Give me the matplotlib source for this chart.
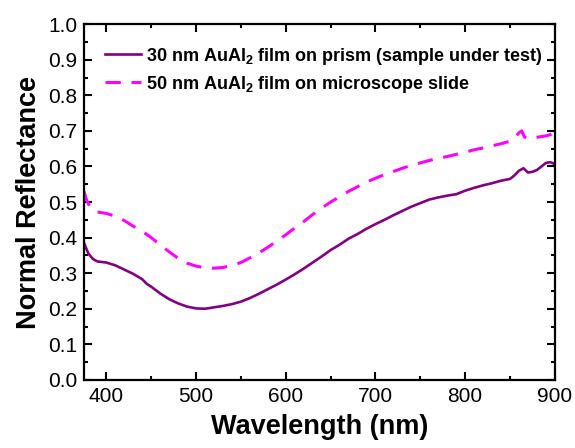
import matplotlib
matplotlib.use('Agg')
import matplotlib.pyplot as plt
from matplotlib.ticker import MultipleLocator

plt.rcParams['font.family'] = ['Liberation Sans', 'DejaVu Sans']
plt.rcParams['mathtext.default'] = 'regular'

# 30 nm AuAl2 film on prism
wl_prism = [375, 380, 385, 390, 400, 410, 420, 430, 440, 445, 450, 460, 470, 480,
            490, 500, 510, 520, 530, 540, 550, 560, 570, 580, 590, 600, 610, 620,
            630, 640, 650, 660, 670, 680, 690, 700, 710, 720, 730, 740, 750, 760,
            770, 780, 790, 800, 810, 820, 830, 840, 850, 855, 860, 865, 870, 875,
            880, 885, 890, 895, 900]
r_prism = [0.385, 0.355, 0.340, 0.333, 0.330, 0.322, 0.310, 0.298, 0.283, 0.270,
           0.262, 0.243, 0.227, 0.215, 0.206, 0.201, 0.200, 0.204, 0.208, 0.213,
           0.220, 0.230, 0.242, 0.255, 0.268, 0.282, 0.297, 0.313, 0.330, 0.347,
           0.365, 0.380, 0.397, 0.410, 0.425, 0.438, 0.450, 0.463, 0.475, 0.487,
           0.497, 0.507, 0.513, 0.518, 0.522, 0.532, 0.540, 0.547, 0.553, 0.560,
           0.565, 0.575, 0.588, 0.595, 0.583, 0.585, 0.590, 0.600, 0.610, 0.612,
           0.607]

# 50 nm AuAl2 film on microscope slide
wl_slide = [375, 378, 382, 390, 400, 410, 420, 430, 440, 450, 460, 470, 480, 490,
            500, 510, 520, 530, 540, 550, 560, 570, 580, 590, 600, 610, 620, 630,
            640, 650, 660, 670, 680, 690, 700, 710, 720, 730, 740, 750, 760, 770,
            780, 790, 800, 810, 820, 830, 840, 850, 855, 860, 863, 866, 870, 880,
            890, 900]
r_slide = [0.530, 0.505, 0.485, 0.472, 0.468, 0.460, 0.448, 0.432, 0.418, 0.400,
           0.380, 0.360, 0.342, 0.328, 0.320, 0.315, 0.314, 0.316, 0.322, 0.330,
           0.343, 0.357, 0.373, 0.390, 0.408, 0.427, 0.445, 0.465, 0.483, 0.500,
           0.515, 0.530, 0.543, 0.556, 0.567, 0.577, 0.586, 0.595, 0.603, 0.610,
           0.617, 0.623, 0.628, 0.634, 0.640, 0.647, 0.652, 0.658, 0.664, 0.671,
           0.680, 0.695, 0.700, 0.683, 0.678, 0.682, 0.686, 0.693]

fig = plt.figure(figsize=(5.75, 4.48), dpi=100)
ax = fig.add_axes([0.146, 0.152, 0.819, 0.794])

ax.plot(wl_prism, r_prism, color='#800080', lw=1.9,
        label='30 nm AuAl$_2$ film on prism (sample under test)')
ax.plot(wl_slide, r_slide, color='#ff00ff', lw=2.2, ls=(0, (5, 3.5)),
        label='50 nm AuAl$_2$ film on microscope slide')

ax.set_xlim(375, 900)
ax.set_ylim(0.0, 1.0)
ax.xaxis.set_major_locator(MultipleLocator(100))
ax.xaxis.set_minor_locator(MultipleLocator(50))
ax.yaxis.set_major_locator(MultipleLocator(0.1))
ax.yaxis.set_minor_locator(MultipleLocator(0.05))
ax.yaxis.set_major_formatter(matplotlib.ticker.FormatStrFormatter('%.1f'))
ax.tick_params(which='both', direction='in', top=True, right=True, width=1.5,
               labelsize=15, pad=5)
ax.tick_params(which='major', length=6)
ax.tick_params(which='minor', length=3)
for s in ax.spines.values():
    s.set_linewidth(1.6)

ax.set_xlabel('Wavelength (nm)', fontsize=19.5, fontweight='bold', labelpad=6)
ax.set_ylabel('Normal Reflectance', fontsize=19.5, fontweight='bold', labelpad=4)

leg = ax.legend(loc='upper left', frameon=False, prop={'size': 13, 'weight': 'bold'},
                handlelength=2.0, handletextpad=0.3, labelspacing=0.38,
                borderaxespad=0.5, bbox_to_anchor=(0.01, 0.985))

fig.savefig('out.png', dpi=100)
